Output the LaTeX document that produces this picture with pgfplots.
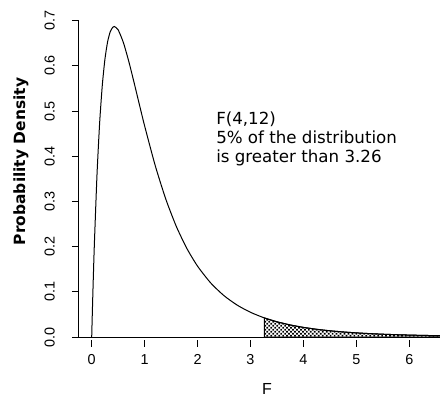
\documentclass[border=0pt]{standalone}
\usepackage{pgfplots}
\pgfplotsset{compat=1.18}
\usetikzlibrary{patterns.meta}
\usepackage{fontspec}
\setmainfont{Liberation Sans}
\newfontfamily\dejavu{DejaVu Sans}

% F(4,12) density
\pgfplotstableread{
x y
0 0
0.01 0.04544
0.02 0.0885
0.03 0.12929
0.05 0.20443
0.1 0.35900
0.15 0.47379
0.2 0.55693
0.25 0.61494
0.3 0.65311
0.35 0.67559
0.4 0.68581
0.4286 0.68722
0.5 0.67981
0.6 0.65119
0.7 0.61018
0.8 0.56338
0.9 0.51488
1.0 0.46719
1.2 0.37945
1.4 0.30515
1.6 0.24435
1.8 0.19558
2.0 0.15676
2.25 0.11938
2.5 0.09143
2.75 0.07046
3.0 0.05469
3.26 0.04232
3.5 0.03363
3.75 0.02664
4.0 0.02125
4.25 0.01705
4.5 0.01376
4.75 0.01118
5.0 0.00913
5.25 0.00749
5.5 0.00618
5.75 0.00512
6.0 0.00427
6.25 0.00357
6.6 0.00280
}\density

\pgfplotstableread{
x y
3.26 0.04232
3.5 0.03363
3.75 0.02664
4.0 0.02125
4.25 0.01705
4.5 0.01376
4.75 0.01118
5.0 0.00913
5.25 0.00749
5.5 0.00618
5.75 0.00512
6.0 0.00427
6.25 0.00357
6.6 0.00280
}\tail

\begin{document}
\begin{tikzpicture}
\begin{axis}[
    at={(0,0)}, anchor=south west,
    scale only axis,
    width=270.75pt,
    height=237.2pt,
    xmin=-0.24, xmax=6.58,
    ymin=0, ymax=0.7,
    axis x line*=bottom,
    axis y line*=left,
    axis line style={-, line width=0.75pt},
    xtick={0,1,2,3,4,5,6},
    ytick={0,0.1,0.2,0.3,0.4,0.5,0.6,0.7},
    yticklabels={0.0,0.1,0.2,0.3,0.4,0.5,0.6,0.7},
    tick align=outside,
    major tick length=5.25pt,
    tick style={line width=0.75pt, black},
    major x tick style={yshift=-2pt},
    /pgf/number format/assume math mode=true,
    tick label style={font=\fontsize{10.8}{12}\selectfont},
    xticklabel style={anchor=north, inner sep=0pt, yshift=-8pt},
    yticklabel style={rotate=90, anchor=south, inner sep=0pt, yshift=12.75pt},
    xlabel={F},
    xlabel style={font=\fontsize{12}{14}\selectfont, at={(axis description cs:0.5208,-0.1644)}, anchor=center},
    ylabel={\dejavu\bfseries Probability Density},
    ylabel style={font=\fontsize{11.6}{14}\selectfont, at={(axis description cs:-0.1607,0.5549)}, anchor=center, rotate=0},
    clip=true,
]
\addplot[draw=black, line width=0.75pt, pattern={Dots[angle=45, distance=2.1pt, radius=0.9pt]}, pattern color=black] table {\tail} \closedcycle;
\addplot[black, line width=0.75pt, smooth, tension=0.4] table {\density};
\node[anchor=north west, inner sep=0pt, align=left,
      font=\dejavu\fontsize{12.5}{14.25}\selectfont]
  at (axis cs:2.348,0.4985) {F(4,12)\\5\% of the distribution\\is greater than 3.26};
\end{axis}
\pgfresetboundingbox
\path[use as bounding box] (-59.25pt,-48pt) rectangle (270.75pt,252.75pt);
\end{tikzpicture}
\end{document}
